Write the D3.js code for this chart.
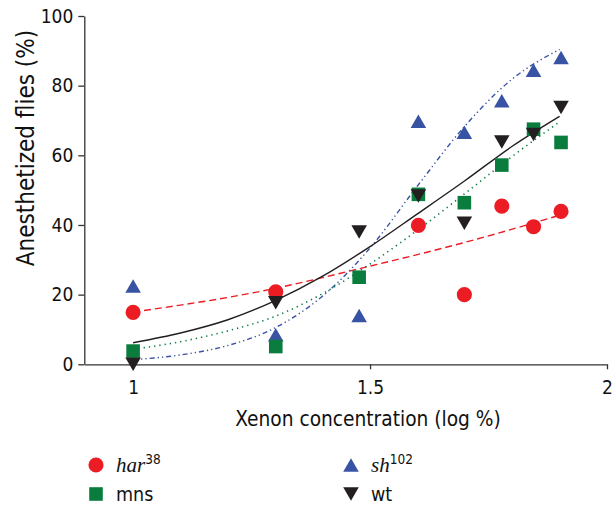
<!DOCTYPE html>
<html>
<head>
<meta charset="utf-8">
<script src="https://cdn.jsdelivr.net/npm/d3@7"></script>
<style>
  body { margin: 0; background: #fff; }
  text { font-family: "DejaVu Sans Condensed", "DejaVu Sans", sans-serif; fill: #111; }
  .axis text { font-size: 19px; }
  .axis path, .axis line { stroke: #333; stroke-width: 1.3; }
</style>
</head>
<body>
<script>
// measured points, x = log10 of xenon %
var concX = [1.0, 1.301, 1.477, 1.602, 1.699, 1.778, 1.845, 1.903];
var harX  = [1.0, 1.301, 1.602, 1.699, 1.778, 1.845, 1.903];
var har38 = [14.9, 20.8, 39.9, 20.0, 45.4, 39.5, 43.9];
var mns   = [3.8, 5.1, 25.0, 48.8, 46.4, 57.2, 67.5, 63.7];
var sh102 = [22.5, 8.5, 14.0, 69.8, 66.6, 75.7, 84.4, 88.1];
var wt    = [0.0, 17.7, 38.0, 48.3, 40.5, 63.8, 66.0, 73.7];

// fitted curves
var fitX    = [1.0, 1.1, 1.2, 1.3, 1.4, 1.5, 1.6, 1.7, 1.8, 1.9];
var harFit  = [15.0, 17.0, 19.2, 21.8, 24.9, 28.2, 31.5, 35.0, 38.8, 42.8];
var mnsFit  = [4.3, 6.5, 9.6, 13.8, 20.3, 28.8, 38.5, 49.0, 59.7, 69.6];
var shFit   = [1.3, 2.7, 5.4, 10.5, 19.6, 33.4, 51.2, 68.4, 81.9, 90.4];
var wtFit   = [6.2, 9.0, 12.8, 18.3, 25.3, 33.8, 43.2, 52.7, 62.6, 71.2];

var xTicks = [1, 1.5, 2];
var yTicks = [0, 20, 40, 60, 80, 100];

var svg = d3.select("body").append("svg").attr("width", 613).attr("height", 505);

var x = d3.scaleLinear().domain([0.897, 2]).range([84.3, 607]),
    y = d3.scaleLinear().domain([0, 100]).range([364.3, 16]);

svg.append("g")
    .attr("class", "axis")
    .attr("transform", "translate(0," + y(0) + ")")
    .call(d3.axisBottom(x).tickValues(xTicks).tickSize(5).tickSizeOuter(0).tickPadding(11)
      .tickFormat(d3.format("")));

svg.append("g")
    .attr("class", "axis")
    .attr("transform", "translate(" + x.range()[0] + ",0)")
    .call(d3.axisLeft(y).tickValues(yTicks).tickSize(6).tickSizeOuter(0).tickPadding(5));

svg.append("text")
    .attr("x", 368).attr("y", 426)
    .attr("text-anchor", "middle")
    .style("font-size", "20.7px")
    .text("Xenon concentration (log %)");

svg.append("text")
    .attr("transform", "translate(34,148) rotate(-90)")
    .attr("text-anchor", "middle")
    .style("font-size", "24px")
    .text("Anesthetized flies (%)");

var series = [
  {name: "har", sup: "38", xs: harX, ys: har38, fit: harFit, color: "#ec1c24", dash: "7,4", sym: d3.symbolCircle, size: 180, flip: false},
  {name: "sh", sup: "102", xs: concX, ys: sh102, fit: shFit, color: "#3853a4", dash: "5,3,1.3,3,1.3,3", sym: d3.symbolTriangle, size: 105, flip: false},
  {name: "mns", sup: "", xs: concX, ys: mns, fit: mnsFit, color: "#0a7d3e", dash: "1.3,4", sym: d3.symbolSquare, size: 185, flip: false},
  {name: "wt", sup: "", xs: concX, ys: wt, fit: wtFit, color: "#231f20", dash: null, sym: d3.symbolTriangle, size: 105, flip: true}
];

var line = d3.line()
    .x(function(d, i) { return x(fitX[i]); })
    .y(function(d) { return y(d); })
    .curve(d3.curveMonotoneX);

series.forEach(function(s) {
  svg.append("path")
    .attr("d", line(s.fit))
    .attr("fill", "none")
    .attr("stroke", s.color)
    .attr("stroke-width", s.dash === "1.3,4" ? 1.6 : 1.4)
    .attr("stroke-dasharray", s.dash);
});

// triangles are nudged so their box centre sits on the value
function symTransform(s, px, py) {
  var shift = 0;
  if (s.sym === d3.symbolTriangle) {
    shift = 0.5 * Math.sqrt(s.size / (Math.sqrt(3) * 3));
  }
  return s.flip ? "translate(" + px + "," + (py - shift) + ") rotate(180)"
                : "translate(" + px + "," + (py + shift) + ")";
}

series.forEach(function(s) {
  svg.append("g").selectAll("path")
    .data(s.ys)
    .enter().append("path")
      .attr("d", d3.symbol().type(s.sym).size(s.size))
      .attr("fill", s.color)
      .attr("transform", function(d, i) { return symTransform(s, x(s.xs[i]), y(d)); });
});

// legend
var legendPos = [[96, 465], [351, 465], [96, 494], [351, 494]];
series.forEach(function(s, i) {
  var p = legendPos[i];
  svg.append("path")
    .attr("d", d3.symbol().type(s.sym).size(s.size))
    .attr("fill", s.color)
    .attr("transform", symTransform(s, p[0], p[1]));
  var t = svg.append("text")
    .attr("x", p[0] + 20).attr("y", p[1] + 6.5);
  if (s.sup) {
    t.append("tspan")
      .style("font-family", "Liberation Serif, serif").style("font-style", "italic").style("font-size", "21px")
      .text(s.name);
    t.append("tspan")
      .attr("dy", -8)
      .style("font-size", "13.5px")
      .text(s.sup);
  } else {
    t.attr("y", p[1] + 6.5)
      .style("font-size", "19.5px")
      .text(s.name);
  }
});
</script>
</body>
</html>
